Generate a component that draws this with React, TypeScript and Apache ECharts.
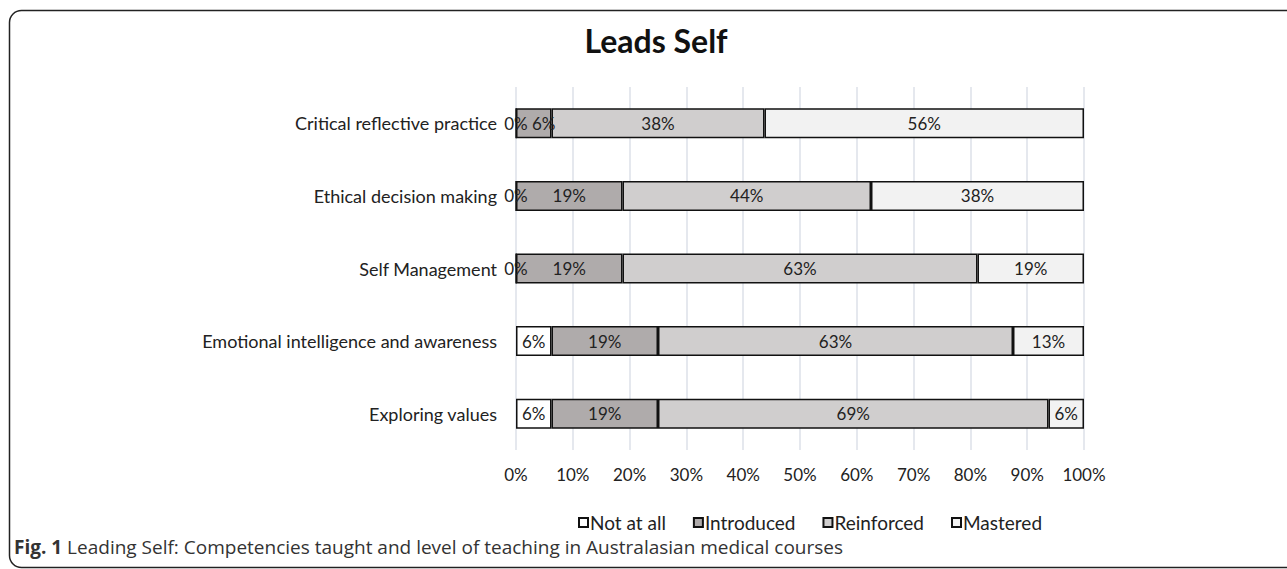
import React, { useEffect, useRef } from "react";
import * as echarts from "echarts";

const categories = [
  "Critical reflective practice",
  "Ethical decision making",
  "Self Management",
  "Emotional intelligence and awareness",
  "Exploring values",
];
const seriesNames = ["Not at all", "Introduced", "Reinforced", "Mastered"];
const notAtAll = [0, 0, 0, 6.25, 6.25];
const introduced = [6.25, 18.75, 18.75, 18.75, 18.75];
const reinforced = [37.5, 43.75, 62.5, 62.5, 68.75];
const mastered = [56.25, 37.5, 18.75, 12.5, 6.25];
const seriesValues = [notAtAll, introduced, reinforced, mastered];
const seriesColors = ["#ffffff", "#afabab", "#d0cece", "#f2f2f2"];

const FONT = "Lato";

export default function App() {
  const ref = useRef<HTMLDivElement>(null);
  useEffect(() => {
    document.body.style.margin = "0";
    if (!ref.current) return;
    const chart = echarts.init(ref.current, undefined, { renderer: "svg" });
    chart.setOption({
      animation: false,
      backgroundColor: "#ffffff",
      textStyle: { fontFamily: FONT },
      grid: { left: 516, right: 203, top: 87, height: 363 },
      legend: {
        left: 573,
        top: 508,
        icon: "rect",
        itemWidth: 9,
        itemHeight: 9,
        itemGap: 27,
        textStyle: { fontFamily: FONT, fontSize: 19, color: "#222", padding: [0, 0, 0, -3] },
        data: seriesNames,
      },
      xAxis: {
        type: "value",
        min: 0,
        max: 100,
        interval: 10,
        axisLine: { show: false },
        axisTick: { show: false },
        axisLabel: { formatter: "{value}%", fontFamily: FONT, fontSize: 17, color: "#222", margin: 16 },
        splitLine: { lineStyle: { color: "#dde1e9", width: 1.5 } },
      },
      yAxis: {
        type: "category",
        inverse: true,
        data: categories,
        axisLine: { show: false },
        axisTick: { show: false },
        axisLabel: { fontFamily: FONT, fontSize: 18, color: "#222", margin: 19 },
      },
      series: seriesNames.map((name, i) => ({
        name,
        type: "bar",
        stack: "total",
        barWidth: 30,
        data: seriesValues[i].map((v, j) => {
          // in the reference, a narrow segment's label is nudged right when its neighbour's 0% label would collide
          const prev = i > 0 ? seriesValues[i - 1][j] : null;
          if (prev === 0 && v < 10) return { value: v, label: { offset: [10, 0] } };
          return v;
        }),
        itemStyle: { color: seriesColors[i], borderColor: "#111", borderWidth: 1.5 },
        label: {
          show: true,
          position: "inside",
          fontFamily: FONT,
          fontSize: 17,
          color: "#222",
          formatter: (p: any) => Math.round(p.value) + "%",
        },
      })),
      graphic: [
        {
          type: "rect",
          shape: { x: 9.5, y: 10.5, width: 1300, height: 557, r: 12 },
          style: { fill: "none", stroke: "#222", lineWidth: 1.5 },
          silent: true,
        },
        {
          type: "text",
          x: 656,
          y: 40,
          style: {
            text: "Leads Self",
            fontFamily: FONT,
            fontSize: 32,
            fontWeight: "bold",
            fill: "#111",
            textAlign: "center",
            textVerticalAlign: "middle",
          },
        },
        {
          type: "text",
          x: 14,
          y: 547,
          style: {
            text: "{b|Fig. 1} Leading Self: Competencies taught and level of teaching in Australasian medical courses",
            fontFamily: "Open Sans",
            fontSize: 19,
            fill: "#333",
            textVerticalAlign: "middle",
            rich: {
              b: { fontFamily: "Open Sans", fontSize: 19, fontWeight: "bold", fill: "#333" },
            },
          },
        },
      ],
    });
    return () => chart.dispose();
  }, []);
  return <div ref={ref} style={{ width: 1287, height: 569 }} />;
}
